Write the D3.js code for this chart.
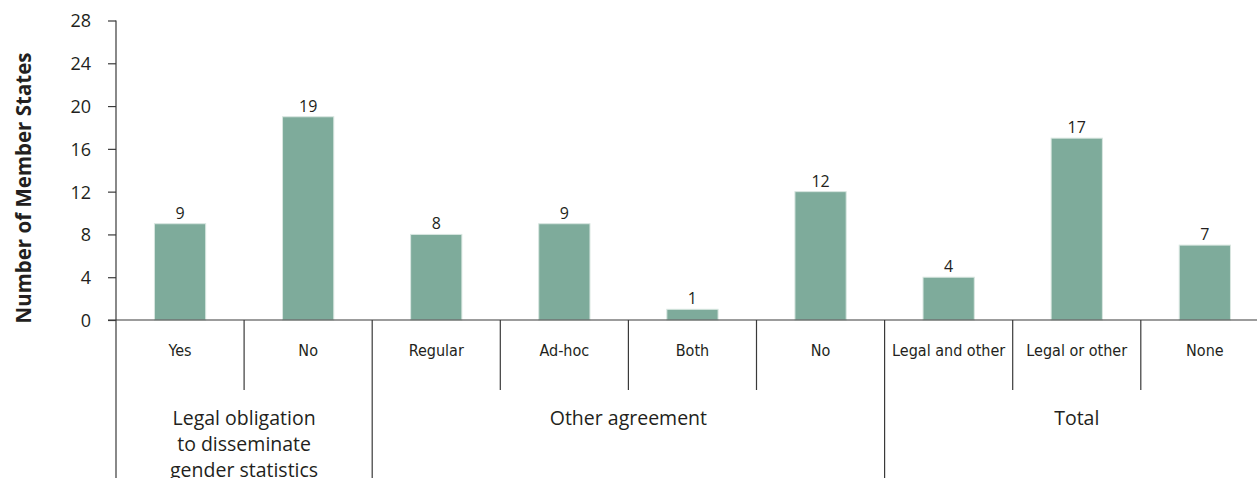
<!DOCTYPE html>
<meta charset="utf-8">
<head>
  <title>Gender statistics dissemination</title>
</head>

<style>
body { margin: 0; background: #fff; }
text {
  font-family: "Open Sans", "Noto Sans", sans-serif;
  fill: #231f20;
}
.bar { fill: #7eab9b; stroke: #d8e6e0; stroke-width: 1; }
.cat { font-family: "Liberation Sans Narrow", "DejaVu Sans Condensed", sans-serif; font-size: 16px; }
.grp { font-size: 19.5px; }
.val { font-size: 16px; }
.line { stroke: #3a3a3a; stroke-width: 1.2; }
.y-axis text { font-size: 18px; }
.y-axis path, .y-axis line { stroke: #3a3a3a; stroke-width: 1.2; }
</style>

<body>
  <svg width="1257" height="478"></svg>

  <script src="https://d3js.org/d3.v7.min.js"></script>
  <script>
var categories = ["Yes", "No", "Regular", "Ad-hoc", "Both", "No", "Legal and other", "Legal or other", "None"];
var values = [9, 19, 8, 9, 1, 12, 4, 17, 7];
var groups = [
  {name: ["Legal obligation", "to disseminate", "gender statistics"], start: 0, end: 2},
  {name: ["Other agreement"], start: 2, end: 6},
  {name: ["Total"], start: 6, end: 9}
];
var yTicks = [0, 4, 8, 12, 16, 20, 24, 28];

var svg = d3.select('svg');
var plotLeft = 116, bandW = 128.1;
var plotTop = 20.5, zeroY = 320;

var x = d3.scaleBand()
  .domain(d3.range(categories.length))
  .range([plotLeft, plotLeft + bandW * categories.length])
  .paddingInner(0.6)
  .paddingOuter(0.3);

var y = d3.scaleLinear()
  .domain([0, 28])
  .range([zeroY, plotTop]);

// bars
svg.selectAll('.bar')
  .data(values)
  .enter()
  .append('rect')
  .attr('class', 'bar')
  .attr('x', function(d, i) { return x(i); })
  .attr('y', function(d) { return y(d); })
  .attr('width', x.bandwidth())
  .attr('height', function(d) { return y(0) - y(d); });

svg.selectAll('.val')
  .data(values)
  .enter()
  .append('text')
  .attr('class', 'val')
  .attr('text-anchor', 'middle')
  .attr('x', function(d, i) { return x(i) + x.bandwidth() / 2; })
  .attr('y', function(d) { return y(d) - 5; })
  .text(function(d) { return d; });

// y axis
var yAxis = svg.append('g')
  .attr('class', 'y-axis')
  .attr('transform', 'translate(' + plotLeft + ',0)')
  .call(d3.axisLeft(y).tickValues(yTicks).tickSize(8).tickSizeOuter(8).tickPadding(17));
yAxis.select('.domain').remove();
yAxis.selectAll('text').attr('dy', '0.36em');

svg.append('line')
  .attr('class', 'line')
  .attr('x1', plotLeft).attr('x2', plotLeft)
  .attr('y1', y(28)).attr('y2', 478);

// x axis baseline
svg.append('line')
  .attr('class', 'line')
  .attr('x1', plotLeft - 8).attr('x2', 1257)
  .attr('y1', y(0)).attr('y2', y(0));

// category separators
var groupEdges = groups.map(function(g) { return g.start; });
d3.range(1, categories.length).forEach(function(i) {
  var xx = plotLeft + bandW * i;
  var isGroup = groupEdges.indexOf(i) >= 0;
  svg.append('line')
    .attr('class', 'line')
    .attr('x1', xx).attr('x2', xx)
    .attr('y1', y(0)).attr('y2', isGroup ? 478 : 390);
});

svg.selectAll('.cat')
  .data(categories)
  .enter()
  .append('text')
  .attr('class', 'cat')
  .attr('text-anchor', 'middle')
  .attr('x', function(d, i) { return plotLeft + bandW * (i + 0.5); })
  .attr('y', 356)
  .text(function(d) { return d; });

// group labels
groups.forEach(function(g) {
  var cx = plotLeft + bandW * (g.start + g.end) / 2;
  var t = svg.append('text')
    .attr('class', 'grp')
    .attr('text-anchor', 'middle')
    .attr('x', cx)
    .attr('y', 425);
  g.name.forEach(function(line, j) {
    t.append('tspan')
      .attr('x', cx)
      .attr('dy', j === 0 ? 0 : 26)
      .text(line);
  });
});

// y title
svg.append('text')
  .attr('transform', 'translate(31,' + 188 + ') rotate(-90)')
  .attr('text-anchor', 'middle')
  .style('font-weight', 'bold')
  .style('font-size', '20.5px')
  .text('Number of Member States');
  </script>
</body>
</html>
